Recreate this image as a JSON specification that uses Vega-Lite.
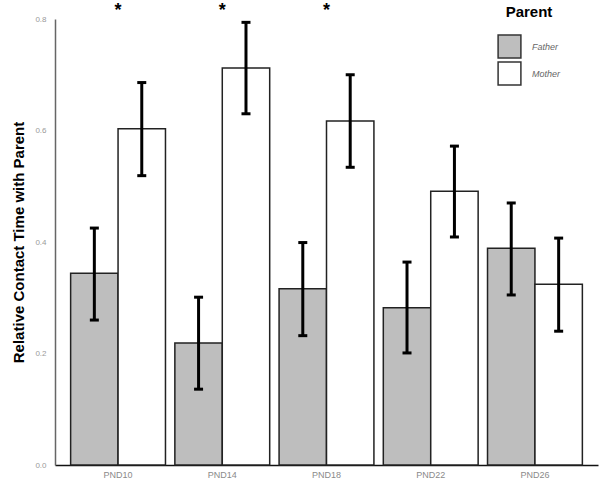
{
  "$schema": "https://vega.github.io/schema/vega-lite/v6.json",
  "width": 543,
  "height": 446,
  "autosize": {"type": "none"},
  "padding": {"left": 55, "top": 19, "right": 2, "bottom": 35},
  "background": "white",
  "config": {"view": {"stroke": null}, "font": "Liberation Sans"},
  "datasets": {
    "bars": [
      {"Day": "PND10", "Parent": "Father", "mean": 0.344, "lo": 0.26, "hi": 0.425},
      {"Day": "PND10", "Parent": "Mother", "mean": 0.603, "lo": 0.519, "hi": 0.686},
      {"Day": "PND14", "Parent": "Father", "mean": 0.219, "lo": 0.136, "hi": 0.301},
      {"Day": "PND14", "Parent": "Mother", "mean": 0.712, "lo": 0.63, "hi": 0.794},
      {"Day": "PND18", "Parent": "Father", "mean": 0.316, "lo": 0.232, "hi": 0.399},
      {"Day": "PND18", "Parent": "Mother", "mean": 0.617, "lo": 0.534, "hi": 0.7},
      {"Day": "PND22", "Parent": "Father", "mean": 0.282, "lo": 0.201, "hi": 0.364},
      {"Day": "PND22", "Parent": "Mother", "mean": 0.491, "lo": 0.409, "hi": 0.572},
      {"Day": "PND26", "Parent": "Father", "mean": 0.389, "lo": 0.305, "hi": 0.47},
      {"Day": "PND26", "Parent": "Mother", "mean": 0.324, "lo": 0.24, "hi": 0.407}
    ],
    "stars": [
      {"Day": "PND10", "y": 0.826, "label": "*"},
      {"Day": "PND14", "y": 0.826, "label": "*"},
      {"Day": "PND18", "y": 0.826, "label": "*"}
    ]
  },
  "encoding": {
    "x": {
      "field": "Day", "type": "nominal",
      "scale": {"paddingInner": 0.09, "paddingOuter": 0.15},
      "axis": {"title": null, "labelAngle": 0, "labelColor": "#8a8a8a", "labelFontSize": 9, "ticks": false, "labelPadding": 5, "domainColor": "#111", "domainWidth": 1.5}
    }
  },
  "layer": [
    {
      "data": {"name": "bars"},
      "mark": {"type": "bar", "stroke": "#222", "strokeWidth": 1.5, "clip": false},
      "encoding": {
        "xOffset": {"field": "Parent", "type": "nominal", "scale": {"paddingInner": 0, "paddingOuter": 0}},
        "y": {
          "field": "mean", "type": "quantitative",
          "scale": {"domain": [0, 0.8], "nice": false},
          "axis": {"title": "Relative Contact Time with Parent", "titleFontSize": 15, "titleFontWeight": "bold", "titleColor": "#000", "titlePadding": 8, "values": [0, 0.2, 0.4, 0.6, 0.8], "format": ".1f", "labelColor": "#9a9a9a", "labelFontSize": 8, "ticks": false, "labelPadding": 9, "grid": false, "domainColor": "#666", "domainWidth": 1.5}
        },
        "fill": {
          "field": "Parent", "type": "nominal",
          "scale": {"domain": ["Father", "Mother"], "range": ["#bebebe", "#ffffff"]},
          "legend": {"title": "Parent", "orient": "none", "legendX": 442, "legendY": -14, "titleFontSize": 15, "titleFontWeight": "bold", "titleColor": "#000", "titleAnchor": "middle", "symbolType": "square", "symbolSize": 520, "symbolStrokeColor": "#333", "symbolStrokeWidth": 1.5, "rowPadding": -7, "labelColor": "#666", "labelFontSize": 9, "labelFontStyle": "italic", "labelOffset": 10, "titlePadding": 14}
        }
      }
    },
    {
      "data": {"name": "bars"},
      "mark": {"type": "rule", "stroke": "#000", "strokeWidth": 3},
      "encoding": {
        "xOffset": {"field": "Parent", "type": "nominal"},
        "y": {"field": "lo", "type": "quantitative"},
        "y2": {"field": "hi"}
      }
    },
    {
      "data": {"name": "bars"},
      "mark": {"type": "tick", "color": "#000", "size": 9, "thickness": 3, "opacity": 1},
      "encoding": {
        "xOffset": {"field": "Parent", "type": "nominal"},
        "y": {"field": "lo", "type": "quantitative"}
      }
    },
    {
      "data": {"name": "bars"},
      "mark": {"type": "tick", "color": "#000", "size": 9, "thickness": 3, "opacity": 1},
      "encoding": {
        "xOffset": {"field": "Parent", "type": "nominal"},
        "y": {"field": "hi", "type": "quantitative"}
      }
    },
    {
      "data": {"name": "stars"},
      "mark": {"type": "text", "fontSize": 18, "fontWeight": "bold", "color": "#000", "baseline": "middle", "dy": 6, "clip": false},
      "encoding": {
        "y": {"field": "y", "type": "quantitative"},
        "text": {"field": "label"}
      }
    }
  ]
}
